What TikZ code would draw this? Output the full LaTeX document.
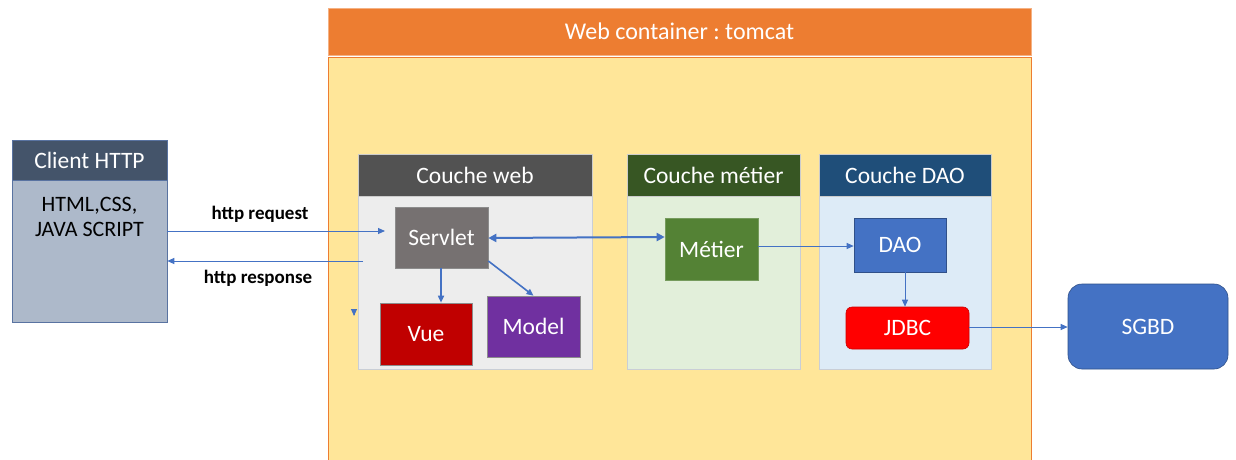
\documentclass[tikz,border=0pt]{standalone}
\usepackage{fontspec}
\setmainfont{Carlito}
\frenchspacing
\usetikzlibrary{arrows.meta}
\definecolor{tomcatOrange}{HTML}{ED7D31}
\definecolor{tomcatYellow}{HTML}{FFE699}
\definecolor{clientHead}{HTML}{44546A}
\definecolor{clientBody}{HTML}{ADB9CA}
\definecolor{webHead}{HTML}{525252}
\definecolor{webBody}{HTML}{EDEDED}
\definecolor{metierHead}{HTML}{375623}
\definecolor{metierBody}{HTML}{E2EFDA}
\definecolor{daoHead}{HTML}{1F4E79}
\definecolor{daoBody}{HTML}{DDEBF7}
\definecolor{servletFill}{HTML}{767171}
\definecolor{vueFill}{HTML}{C00000}
\definecolor{modelFill}{HTML}{7030A0}
\definecolor{metierFill}{HTML}{548235}
\definecolor{blueFill}{HTML}{4472C4}
\definecolor{jdbcFill}{HTML}{FF0000}
\definecolor{linkBlue}{HTML}{4472C4}
\definecolor{panelEdge}{HTML}{C9CED6}
\tikzset{
  headbox/.style={draw=white!80!black, line width=0.6pt, text=white, inner sep=0pt,
    font=\fontsize{23.5}{26}\selectfont},
  panel/.style={draw=panelEdge, line width=0.8pt, inner sep=0pt},
  comp/.style={draw=black!45, line width=0.6pt, text=white, inner sep=0pt,
    font=\fontsize{23.5}{26}\selectfont},
  link/.style={draw=linkBlue, line width=1pt, -{Triangle[length=7pt,width=6pt]}},
  biglink/.style={draw=linkBlue, line width=2pt, {Triangle[length=8pt,width=8pt]}-{Triangle[length=8pt,width=8pt]}},
  lbl/.style={font=\fontsize{19}{22}\selectfont\bfseries, inner sep=0pt}
}
\begin{document}
\begin{tikzpicture}[x=1pt,y=-1pt]
\useasboundingbox (0,0) rectangle (1236,460);
\fill[white] (0,0) rectangle (1236,460);

% web container
\fill[tomcatYellow] (328,58) rectangle (1031,462);
\draw[tomcatOrange, line width=1pt] (328,462) -- (328,58) -- (1031,58) -- (1031,462);
\node[headbox, fill=tomcatOrange, draw=tomcatOrange!60!white, minimum width=703pt, minimum height=47pt,
  font=\fontsize{24}{27}\selectfont] (tomcat) at (679.5,31.5) {Web container : tomcat};

% client
\node[panel, draw=linkBlue!70!black!80, fill=clientBody, minimum width=155pt, minimum height=142pt] (clientbody) at (89.5,251) {};
\node[headbox, fill=clientHead, draw=linkBlue!70!black!80, minimum width=155pt, minimum height=40pt] (client) at (89.5,160) {Client HTTP};
\node[font=\fontsize{22}{25}\selectfont, align=center, inner sep=0pt, anchor=north] (tech) at (89.5,197) {HTML,CSS,\\JAVA SCRIPT};

% layer panels
\node[panel, fill=webBody, minimum width=234pt, minimum height=173pt] (webbody) at (475,282.5) {};
\node[headbox, fill=webHead, minimum width=234pt, minimum height=42pt] (webhead) at (475,175) {Couche web};
\node[panel, fill=metierBody, minimum width=173pt, minimum height=173pt] (metierbody) at (713.5,282.5) {};
\node[headbox, fill=metierHead, minimum width=173pt, minimum height=42pt] (metierhead) at (713.5,175) {Couche métier};
\node[panel, fill=daoBody, minimum width=172pt, minimum height=173pt] (daobody) at (905,282.5) {};
\node[headbox, fill=daoHead, minimum width=172pt, minimum height=42pt] (daohead) at (905,175) {Couche DAO};

% components
\node[comp, fill=servletFill, minimum width=93pt, minimum height=61pt] (servlet) at (441.5,237.5) {Servlet};
\node[comp, fill=vueFill, minimum width=92pt, minimum height=62pt] (vue) at (426,334) {Vue};
\node[comp, fill=modelFill, minimum width=93pt, minimum height=61pt] (model) at (533.5,326.5) {Model};
\node[comp, fill=metierFill, draw=metierFill!80!white, minimum width=93pt, minimum height=62pt] (metier) at (711.5,249) {Métier};
\node[comp, fill=blueFill, draw=blueFill!70!black, minimum width=92pt, minimum height=54pt] (dao) at (900,245) {DAO};
\node[comp, fill=jdbcFill, draw=jdbcFill!80!black, rounded corners=6pt, minimum width=123pt, minimum height=42pt] (jdbc) at (907.5,328) {JDBC};
\node[comp, fill=blueFill, draw=blueFill!70!black, rounded corners=14pt, minimum width=160pt, minimum height=85pt] (sgbd) at (1148,326.5) {SGBD};

% client <-> web layer
\coordinate (reqend) at (385,231);
\coordinate (respstart) at (363,261);
\coordinate (stray) at (354,316);
\draw[link] (client.east |- 0,231) -- (reqend);
\draw[link] (respstart) -- (client.east |- 0,261);
\draw[link] ([yshift=1pt]stray) -- (stray);
\node[lbl] (req) at (260,214) {http request};
\node[lbl] (resp) at (258,278) {http response};

% inner links
\draw[biglink] (servlet.east |- 0,238) -- (metier.west |- 0,237);
\draw[link, line width=1.6pt] (servlet.south -| 441,0) -- (vue.north -| 441,0);
\draw[link, line width=1.6pt] (servlet.south east |- 0,261) -- (model.north);
\draw[link] (metier.east |- 0,246) -- (dao.west |- 0,246);
\draw[link] (dao.south -| 905,0) -- (jdbc.north -| 905,0);
\draw[link] (jdbc.east |- 0,327) -- (sgbd.west |- 0,327);
\end{tikzpicture}
\end{document}
